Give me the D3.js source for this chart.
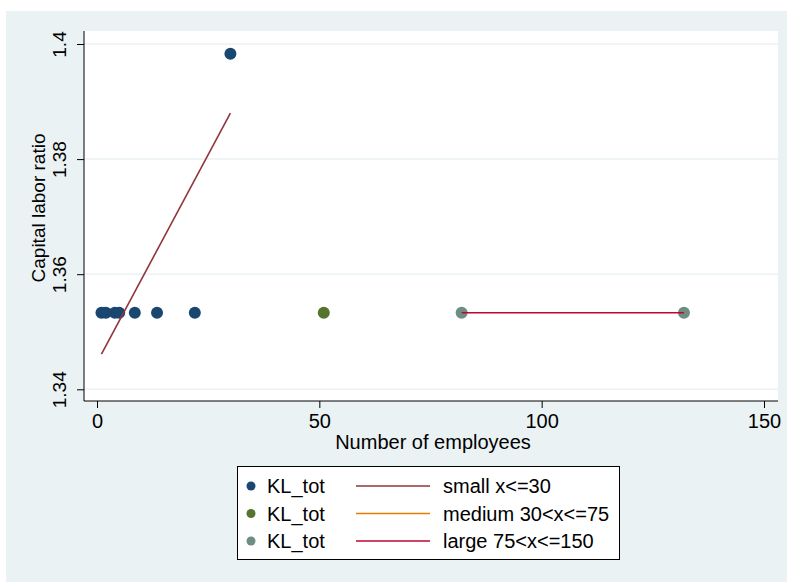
<!DOCTYPE html>
<html>
<head>
<meta charset="utf-8">
<script src="https://cdn.jsdelivr.net/npm/d3@7"></script>
<style>
  html, body { margin: 0; padding: 0; background: #ffffff; }
  svg { display: block; font-family: "Liberation Sans", Arial, sans-serif; }
</style>
</head>
<body>
<svg id="chart" width="787" height="582"></svg>
<script>
// Employees and capital-labor ratio, grouped by firm size
const smallEmployees = [1, 2, 4, 5, 8.5, 13.5, 22, 30];
const smallKL = [1.3533, 1.3533, 1.3533, 1.3533, 1.3533, 1.3533, 1.3533, 1.3983];
const mediumEmployees = [51];
const mediumKL = [1.3533];
const largeEmployees = [82, 132];
const largeKL = [1.3533, 1.3533];

// Fitted lines per size group (endpoints of each fit)
const smallFitX = [1, 30];
const smallFitY = [1.3461, 1.3880];
const mediumFitX = [51, 51];
const mediumFitY = [1.3533, 1.3533];
const largeFitX = [82, 132];
const largeFitY = [1.3533, 1.3533];

const xTicks = [0, 50, 100, 150];
const yTicks = [1.34, 1.36, 1.38, 1.4];
const yTickLabels = ["1.34", "1.36", "1.38", "1.4"];

const legendRows = [
  { marker: "KL_tot", markerColor: "#1a476f", line: "small x<=30", lineColor: "#90353b" },
  { marker: "KL_tot", markerColor: "#55752f", line: "medium 30<x<=75", lineColor: "#e37e00" },
  { marker: "KL_tot", markerColor: "#6e8e84", line: "large 75<x<=150", lineColor: "#c10534" }
];

const svg = d3.select("#chart");

// Graph region background
svg.append("rect").attr("x", 6).attr("y", 11).attr("width", 781).attr("height", 571)
  .attr("fill", "#eaf2f3");

const plot = { left: 84, top: 31, right: 778, bottom: 401 };
svg.append("rect")
  .attr("x", plot.left).attr("y", plot.top)
  .attr("width", plot.right - plot.left).attr("height", plot.bottom - plot.top)
  .attr("fill", "#ffffff");

const x = d3.scaleLinear().domain([0, 150]).range([97, 764]);
const y = d3.scaleLinear().domain([1.34, 1.4]).range([389.3, 44]);

// Horizontal grid lines
svg.append("g").selectAll("line").data(yTicks).join("line")
  .attr("x1", plot.left).attr("x2", plot.right)
  .attr("y1", d => y(d)).attr("y2", d => y(d))
  .attr("stroke", "#eaf2f3").attr("stroke-width", 1.5);

// Y axis
const yAxis = d3.axisLeft(y).tickValues(yTicks)
  .tickFormat((d, i) => yTickLabels[i]).tickSize(7).tickPadding(4);
const gy = svg.append("g").attr("transform", `translate(${plot.left},0)`).call(yAxis);
gy.select(".domain").remove();
gy.selectAll(".tick line").attr("stroke", "#000");
gy.selectAll(".tick text")
  .attr("font-size", 19).attr("fill", "#000")
  .attr("transform", "rotate(-90)")
  .attr("x", 0).attr("y", -18)
  .attr("dy", "0")
  .attr("text-anchor", "middle");
svg.append("line").attr("x1", plot.left).attr("x2", plot.left)
  .attr("y1", plot.top).attr("y2", plot.bottom).attr("stroke", "#000");

// X axis
const xAxis = d3.axisBottom(x).tickValues(xTicks).tickSize(7).tickPadding(6);
const gx = svg.append("g").attr("transform", `translate(0,${plot.bottom})`).call(xAxis);
gx.select(".domain").remove();
gx.selectAll(".tick line").attr("stroke", "#000");
gx.selectAll(".tick text").attr("font-size", 20).attr("fill", "#000");
svg.append("line").attr("x1", plot.left).attr("x2", plot.right)
  .attr("y1", plot.bottom).attr("y2", plot.bottom).attr("stroke", "#000");

// Axis titles
svg.append("text").attr("x", 433).attr("y", 449)
  .attr("text-anchor", "middle").attr("font-size", 20).text("Number of employees");
svg.append("text")
  .attr("transform", `translate(45,208) rotate(-90)`)
  .attr("text-anchor", "middle").attr("font-size", 19).text("Capital labor ratio");

// Scatter points
function drawPoints(xs, ys, color) {
  svg.append("g").selectAll("circle").data(xs).join("circle")
    .attr("cx", d => x(d)).attr("cy", (d, i) => y(ys[i]))
    .attr("r", 6).attr("fill", color);
}
drawPoints(smallEmployees, smallKL, "#1a476f");
drawPoints(mediumEmployees, mediumKL, "#55752f");
drawPoints(largeEmployees, largeKL, "#6e8e84");

// Fit lines
const line = d3.line().x(d => x(d[0])).y(d => y(d[1]));
function drawFit(xs, ys, color) {
  svg.append("path").datum(d3.zip(xs, ys))
    .attr("d", line).attr("fill", "none")
    .attr("stroke", color).attr("stroke-width", 1.6);
}
drawFit(smallFitX, smallFitY, "#90353b");
drawFit(mediumFitX, mediumFitY, "#e37e00");
drawFit(largeFitX, largeFitY, "#c10534");

// Legend
const legend = svg.append("g");
legend.append("rect").attr("x", 237.5).attr("y", 466.5).attr("width", 382).attr("height", 93)
  .attr("fill", "#ffffff").attr("stroke", "#000").attr("stroke-width", 1);
const rowY = d3.scalePoint().domain(d3.range(legendRows.length)).range([486, 541]);
const rows = legend.selectAll("g.row").data(legendRows).join("g")
  .attr("class", "row").attr("transform", (d, i) => `translate(0,${rowY(i)})`);
rows.append("circle").attr("cx", 251).attr("cy", 0).attr("r", 4.5).attr("fill", d => d.markerColor);
rows.append("text").attr("x", 267).attr("y", 7).attr("font-size", 20).text(d => d.marker);
rows.append("line").attr("x1", 356).attr("x2", 430).attr("y1", 0).attr("y2", 0)
  .attr("stroke", d => d.lineColor).attr("stroke-width", 1.6);
rows.append("text").attr("x", 443).attr("y", 7).attr("font-size", 20).text(d => d.line);
</script>
</body>
</html>
